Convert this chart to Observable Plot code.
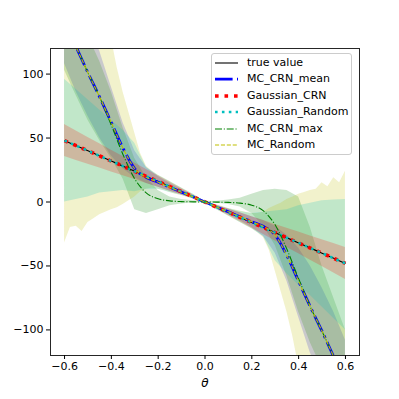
<!DOCTYPE html>
<html>
<head>
<meta charset="utf-8">
<script src="https://cdn.jsdelivr.net/npm/d3@7"></script>
<script src="https://cdn.jsdelivr.net/npm/@observablehq/plot@0.6"></script>
<style>
  html, body { margin: 0; padding: 0; background: #fff; }
  #wrap { position: relative; width: 399px; height: 399px; font-family: "DejaVu Sans", sans-serif; }
  #legend { position: absolute; left: 211px; top: 53px; width: 141px; height: 102px;
    background: rgba(255,255,255,0.8); border: 1px solid #cccccc; border-radius: 3px; box-sizing: border-box; }
  .row { position: absolute; left: 0; height: 16px; font-size: 11px; line-height: 16px; color: #000; white-space: nowrap; }
  .row svg { position: absolute; left: 3px; top: 0; }
  .row span { position: absolute; left: 35px; top: 0; }
</style>
</head>
<body>
<div id="wrap"><div id="legend"></div></div>
<script>
// ---- data ----
const theta = [-0.6,-0.55,-0.5,-0.45,-0.4,-0.35,-0.3,-0.25,-0.2,-0.15,-0.1,-0.05,0,0.05,0.1,0.15,0.2,0.25,0.3,0.35,0.4,0.45,0.5,0.55,0.6];
const trueValue    = [48,44,40,36,32,28,24,20,16,12,8,4,0,-4,-8,-12,-16,-20,-24,-28,-32,-36,-40,-44,-48];
const mcCrnMean    = [140,121,101,82,62,42,26,19.2,15.5,11.5,7.7,3.9,0,-3.9,-7.7,-11.5,-15.5,-19.2,-26,-42,-62,-82,-101,-121,-140];
const gaussianCrn  = [48,44,40,36,32,28,24,20,16,12,8,4,0,-4,-8,-12,-16,-20,-24,-28,-32,-36,-40,-44,-48];
const gaussianRand = [48,44,40,36,32,28,24,20,16,12,8,4,0,-4,-8,-12,-16,-20,-24,-28,-32,-36,-40,-44,-48];
const mcCrnMax     = [140,121,101,82,60,37,18,7,2.5,0.9,0.3,0.1,0,-0.1,-0.3,-0.9,-2.5,-7,-18,-37,-60,-82,-101,-121,-140];
const mcRandom     = [141,121,101,82,62,42,26,19.2,15.5,11.5,7.7,3.9,0,-3.9,-7.7,-11.5,-15.5,-19.2,-26,-42,-62,-82,-101,-121,-141];

// bands
const mcCrnMeanLo = [108,86,67,50,36,26,19,14.5,11.5,8.5,5.6,2.8,-0.8,-5,-9.8,-14.5,-20,-27,-40,-62,-90,-118,-138,-158,-175];
const mcCrnMeanHi = [175,158,138,118,90,62,40,27,20,14.5,9.8,5,0.8,-2.8,-5.6,-8.5,-11.5,-14.5,-19,-26,-36,-50,-67,-86,-108];
const gaussCrnLo  = [35.5,32.5,29.5,26.5,23.5,20.5,17.5,14.5,11.5,8.5,5.5,2.5,-0.5,-5.5,-10.5,-15.5,-20.5,-25.5,-30.5,-35.5,-40.5,-45.5,-50.5,-55.5,-60.5];
const gaussCrnHi  = [60.5,55.5,50.5,45.5,40.5,35.5,30.5,25.5,20.5,15.5,10.5,5.5,0.5,-2.5,-5.5,-8.5,-11.5,-14.5,-17.5,-20.5,-23.5,-26.5,-29.5,-32.5,-35.5];
const gaussRandLo = [0,2,4,7,8,9,8,10,10,7.5,5,2.5,-0.5,-6,-11,-16,-21,-27,-46,-56,-65,-73,-82,-91,-100];
const gaussRandHi = [96,88,80,72,64,56,46,27,21,16,11,6,0.5,-2.5,-5,-7.5,-9,-8,-7,-6,-3,-1,1,1.5,2];
const mcCrnMaxLo  = [103,83,64,48,34,18,-6,-9,-6,-3,-1.5,-0.5,-0.5,-1,-2,-4,-9,-19,-34,-58,-86,-110,-130,-150,-170];
const mcCrnMaxHi  = [170,150,130,110,86,58,34,19,9,4,2,1,0.5,0.5,1.5,3,6,9,10,9,4,-20,-50,-75,-100];

const thetaFine = [-0.6,-0.575,-0.55,-0.525,-0.5,-0.475,-0.45,-0.425,-0.4,-0.375,-0.35,-0.325,-0.3,-0.275,-0.25,-0.225,-0.2,-0.175,-0.15,-0.125,-0.1,-0.075,-0.05,-0.025,0,0.025,0.05,0.075,0.1,0.125,0.15,0.175,0.2,0.225,0.25,0.275,0.3,0.325,0.35,0.375,0.4,0.425,0.45,0.475,0.5,0.525,0.55,0.575,0.6];
const mcRandomLo = [-32,-20,-19,-23,-16,-13,-10,-8,-6,-4.5,-2,1,4,8,10,11,10,9,7.5,6,5,3.5,2.3,1.1,-0.5,-3,-6,-8.5,-11,-13.5,-16,-18.5,-21,-24,-28,-38,-54,-70,-86,-105,-128,-150,-170,-190,-210,-225,-240,-250,-260];
const mcRandomHi = [260,250,240,225,210,190,170,150,128,105,86,70,54,38,28,24,21,18.5,16,13.5,11,8.5,6,3,0.5,-1.1,-2.3,-3.5,-5,-6,-7,-8,-9,-9,-8,-5,-3,-1,2,4,6,7.5,9,10,15,12,19,15,24];

const xTicks = [-0.6,-0.4,-0.2,0,0.2,0.4,0.6];
const yTicks = [-100,-50,0,50,100];

const seriesNames = ["true value","MC_CRN_mean","Gaussian_CRN","Gaussian_Random","MC_CRN_max","MC_Random"];
const seriesColors = ["#000000","#0000ff","#ff0000","#00bfbf","#008000","#bfbf00"];

// ---- build tables ----
const rows = (ys) => theta.map((t, i) => ({t, v: ys[i]}));
const band = (xs, lo, hi) => xs.map((t, i) => ({t, lo: lo[i], hi: hi[i]}));

const styles = [
  {w: 1.1, dash: null},
  {w: 2.75, dash: "17.6,4.4,2.75,4.4"},
  {w: 3.6, dash: "3.6,5.9"},
  {w: 2.6, dash: "2.6,4.3"},
  {w: 1.1, dash: "7,1.8,1.1,1.8"},
  {w: 1.1, dash: "4.1,1.8"}
];
const lineData = [trueValue, mcCrnMean, gaussianCrn, gaussianRand, mcCrnMax, mcRandom];

const bandMarks = [
  [theta, mcCrnMeanLo, mcCrnMeanHi, seriesColors[1]],
  [theta, mcCrnMaxLo, mcCrnMaxHi, seriesColors[4]],
  [thetaFine, mcRandomLo, mcRandomHi, seriesColors[5]],
  [theta, gaussRandLo, gaussRandHi, seriesColors[3]],
  [theta, gaussCrnLo, gaussCrnHi, seriesColors[2]]
].map(([xs, lo, hi, c]) => Plot.areaY(band(xs, lo, hi), {x: "t", y1: "lo", y2: "hi", fill: c, fillOpacity: 0.2, clip: true}));

const lineMarks = lineData.map((ys, i) => Plot.lineY(rows(ys), {
  x: "t", y: "v", stroke: seriesColors[i], strokeWidth: styles[i].w,
  strokeDasharray: styles[i].dash, strokeLinecap: "butt", curve: "monotone-x", clip: true
}));

const minus = (s) => s.replace("-", "\u2212");

const chart = Plot.plot({
  width: 399, height: 399,
  marginLeft: 50, marginRight: 40, marginTop: 48, marginBottom: 44,
  x: {domain: [-0.66, 0.66]},
  y: {domain: [-120, 120]},
  style: {fontFamily: "DejaVu Sans, sans-serif", fontSize: "11px", color: "#000", background: "#fff"},
  marks: [
    ...bandMarks,
    ...lineMarks,
    Plot.frame({stroke: "#262626", strokeWidth: 1}),
    Plot.axisX({ticks: xTicks, tickSize: 4, tickPadding: 3, label: null,
      tickFormat: d => minus(d.toFixed(1))}),
    Plot.axisY({ticks: yTicks, tickSize: 4, tickPadding: 3, label: null,
      tickFormat: d => minus(String(d))}),
    Plot.text(["\u03b8"], {frameAnchor: "bottom", dy: 31, fontStyle: "italic", fontSize: 12})
  ]
});
document.getElementById("wrap").prepend(chart);

// ---- legend ----
const leg = document.getElementById("legend");
seriesNames.forEach((name, i) => {
  const row = document.createElement("div");
  row.className = "row";
  row.style.top = (1 + i * 16.4) + "px";
  const dash = styles[i].dash ? `stroke-dasharray="${styles[i].dash}"` : "";
  row.innerHTML = `<svg width="24" height="16"><line x1="0" x2="23" y1="8" y2="8" stroke="${seriesColors[i]}" stroke-width="${styles[i].w}" ${dash}/></svg><span>${name}</span>`;
  leg.appendChild(row);
});
</script>
</body>
</html>
